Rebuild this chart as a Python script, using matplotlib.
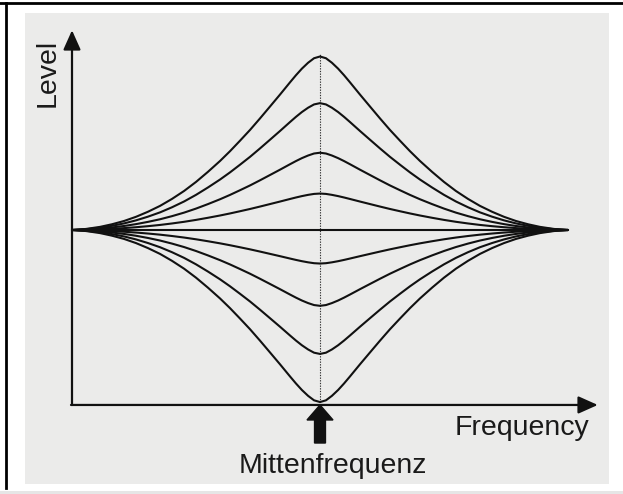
import matplotlib
matplotlib.use('Agg')
import matplotlib.pyplot as plt
from matplotlib.patches import Rectangle
import numpy as np

plt.rcParams['font.family'] = ['Liberation Sans', 'DejaVu Sans']

# level of each curve at the centre frequency (dB-like units)
gains = [11.9, 8.7, 5.3, 2.5, 0.0, -2.3, -5.2, -8.5, -11.8]

# one flank of the bell:
# distance from the centre frequency (1 = distance to the level axis) and
# fraction of the centre level reached there
flank_dist = [0.0, 0.024, 0.048, 0.073, 0.097, 0.121, 0.161, 0.202, 0.242,
              0.282, 0.323, 0.363, 0.403, 0.452, 0.5, 0.548, 0.597, 0.645,
              0.694, 0.742, 0.79, 0.839, 0.887, 0.944, 1.0]
flank_frac = [1.0, 0.99, 0.964, 0.93, 0.892, 0.851, 0.781, 0.711, 0.643,
              0.577, 0.514, 0.454, 0.398, 0.335, 0.277, 0.225, 0.179, 0.139,
              0.105, 0.076, 0.052, 0.033, 0.018, 0.006, 0.0]

freq_axis = (-1.0, 1.12)    # start / arrow tip of the frequency axis
level_axis = (-12.0, 13.7)  # start / arrow tip of the level axis
centre_top = 12.1

fig = plt.figure(figsize=(6.23, 4.94), dpi=100)
fig.patch.set_facecolor('white')
fig.patches.append(Rectangle((25 / 623, 1 - 484 / 494), 584 / 623, 471 / 494,
                             transform=fig.transFigure, facecolor='#ebebea',
                             edgecolor='none', zorder=-2))
fig.patches.append(Rectangle((0, 0), 1, 3 / 494, transform=fig.transFigure,
                             facecolor='#e6e6e6', edgecolor='none', zorder=-2))
fig.lines.append(plt.Line2D([0, 1], [1 - 3 / 494, 1 - 3 / 494],
                            transform=fig.transFigure, color='black', lw=2,
                            zorder=-1))
fig.lines.append(plt.Line2D([5.5 / 623, 5.5 / 623], [0.012, 1 - 3 / 494],
                            transform=fig.transFigure, color='black', lw=2,
                            zorder=-1))

ax = fig.add_axes([0, 0, 1, 1])
ax.set_facecolor('none')
ax.set_xlim(-320 / 248, 303 / 248)
ax.set_ylim(-264 / 14.58, 230 / 14.58)
ax.axis('off')

d = np.array(flank_dist)
f = np.array(flank_frac)
x = np.concatenate([-d[::-1], d[1:]])
shape = np.concatenate([f[::-1], f[1:]])

for g in gains:
    ax.plot(x, g * shape, color='#111111', lw=1.5, solid_capstyle='round',
            solid_joinstyle='round', zorder=3)

# centre frequency marker
ax.plot([0, 0], [level_axis[0], centre_top], color='#333333', lw=0.8,
        ls=(0, (1.2, 1.2)), zorder=2)

# axes with arrow heads
style = '-|>,head_length=0.85,head_width=0.38'
ax.annotate('', xy=(freq_axis[0], level_axis[1]),
            xytext=(freq_axis[0], level_axis[0]),
            arrowprops=dict(arrowstyle=style, color='#111111', lw=1.6,
                            mutation_scale=14, shrinkA=0, shrinkB=0))
ax.annotate('', xy=(freq_axis[1], level_axis[0]),
            xytext=(freq_axis[0] - 0.004, level_axis[0]),
            arrowprops=dict(arrowstyle=style, color='#111111', lw=1.6,
                            mutation_scale=14, shrinkA=0, shrinkB=0))

# thick arrow pointing at the centre frequency
ax.arrow(0, -14.61, 0, 2.61, width=0.044, head_width=0.105, head_length=1.03,
         length_includes_head=True, color='#111111', zorder=4)

ax.text(-1.0685, 10.8, 'Level', rotation=90, rotation_mode='anchor',
        ha='center', va='baseline', fontsize=20.5, color='#1a1a1a')
ax.text(0.544, -14.06, 'Frequency', ha='left', va='baseline',
        fontsize=20.5, color='#1a1a1a')
ax.text(0.052, -16.67, 'Mittenfrequenz', ha='center', va='baseline',
        fontsize=20.5, color='#1a1a1a')

fig.savefig('out.png', dpi=100)
